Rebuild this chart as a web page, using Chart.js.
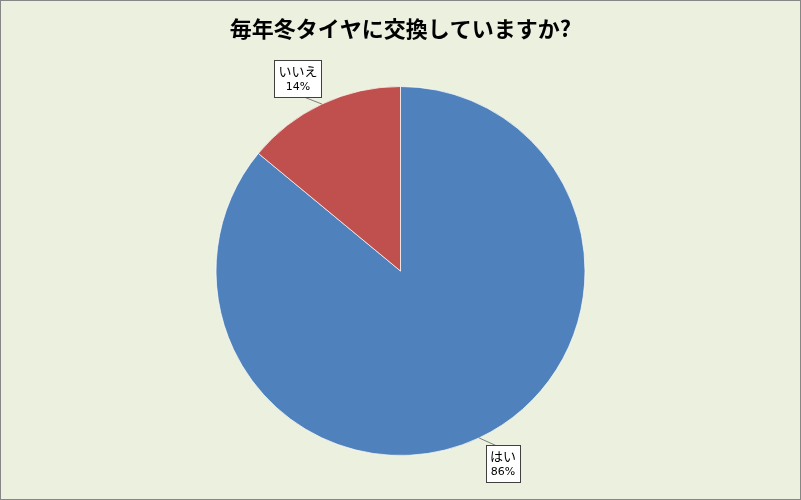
<!DOCTYPE html>
<html><head><meta charset="utf-8">
<script src="https://cdn.jsdelivr.net/npm/chart.js@4/dist/chart.umd.min.js"></script>
<style>html,body{margin:0;padding:0;background:#EBF1DE;}#wrap{width:801px;height:500px;position:relative;}</style>
</head><body><div id="wrap"><canvas id="c" width="801" height="500"></canvas></div>
<script>
const titleText = '毎年冬タイヤに交換していますか?';
const categories = ['はい', 'いいえ'];
const values = [86, 14];
const colors = ['#4F81BD', '#C0504D'];

const bgPlugin = {
  id: 'bg',
  beforeDraw(chart) {
    const ctx = chart.ctx;
    ctx.save();
    ctx.fillStyle = '#EBF1DE';
    ctx.fillRect(0, 0, chart.width, chart.height);
    ctx.strokeStyle = '#868686';
    ctx.lineWidth = 1;
    ctx.strokeRect(0.5, 0.5, chart.width - 1, chart.height - 1);
    ctx.restore();
  }
};

const calloutPlugin = {
  id: 'callout',
  afterDatasetsDraw(chart) {
    const ctx = chart.ctx;
    const meta = chart.getDatasetMeta(0);
    const total = values.reduce((a, b) => a + b, 0);
    meta.data.forEach((arc, i) => {
      const p = arc.getProps(['x', 'y', 'startAngle', 'endAngle', 'outerRadius'], true);
      const mid = (p.startAngle + p.endAngle) / 2;
      const ex = p.x + Math.cos(mid) * p.outerRadius;
      const ey = p.y + Math.sin(mid) * p.outerRadius;
      const sx = Math.cos(mid) >= 0 ? 1 : -1;
      const sy = Math.sin(mid) >= 0 ? 1 : -1;
      const cx = ex + sx * 24;
      const cy = ey + sy * 26;
      const l1 = categories[i];
      const l2 = Math.round(values[i] / total * 100) + '%';
      ctx.save();
      ctx.font = '13px "Noto Sans CJK JP"';
      const w1 = ctx.measureText(l1).width;
      ctx.font = '11px "DejaVu Sans"';
      const w2 = ctx.measureText(l2).width;
      const bw = Math.max(w1, w2) + 8;
      const bh = 37;
      const bx = Math.round(cx - bw / 2) + 0.5;
      const by = Math.round(cy - bh / 2) + 0.5;
      const lx = cx + (ex - cx) * 0.3;
      const ly = ey < cy ? by : by + bh;
      ctx.strokeStyle = '#7f7f7f';
      ctx.lineWidth = 1;
      ctx.beginPath();
      ctx.moveTo(ex, ey);
      ctx.lineTo(lx, ly);
      ctx.stroke();
      ctx.fillStyle = '#ffffff';
      ctx.fillRect(bx, by, bw, bh);
      ctx.strokeStyle = '#404040';
      ctx.strokeRect(bx, by, bw, bh);
      ctx.fillStyle = '#000000';
      ctx.textAlign = 'center';
      ctx.textBaseline = 'middle';
      ctx.font = '13px "Noto Sans CJK JP"';
      ctx.fillText(l1, cx, by + 11);
      ctx.font = '11px "DejaVu Sans"';
      ctx.fillText(l2, cx, by + 27);
      ctx.restore();
    });
  }
};

new Chart(document.getElementById('c'), {
  type: 'pie',
  data: {
    labels: categories,
    datasets: [{
      data: values,
      backgroundColor: colors,
      borderColor: 'rgba(255,255,255,0.7)',
      borderWidth: 1
    }]
  },
  options: {
    responsive: false,
    animation: false,
    layout: { padding: { top: 0, bottom: 44, left: 0, right: 0 } },
    plugins: {
      legend: { display: false },
      tooltip: { enabled: false },
      title: {
        display: true,
        text: titleText,
        color: '#000000',
        font: { family: '"Noto Sans CJK JP"', size: 22, weight: 'bold', lineHeight: 1.2 },
        padding: { top: 15, bottom: 44.6 }
      }
    }
  },
  plugins: [bgPlugin, calloutPlugin]
});
</script></body></html>
